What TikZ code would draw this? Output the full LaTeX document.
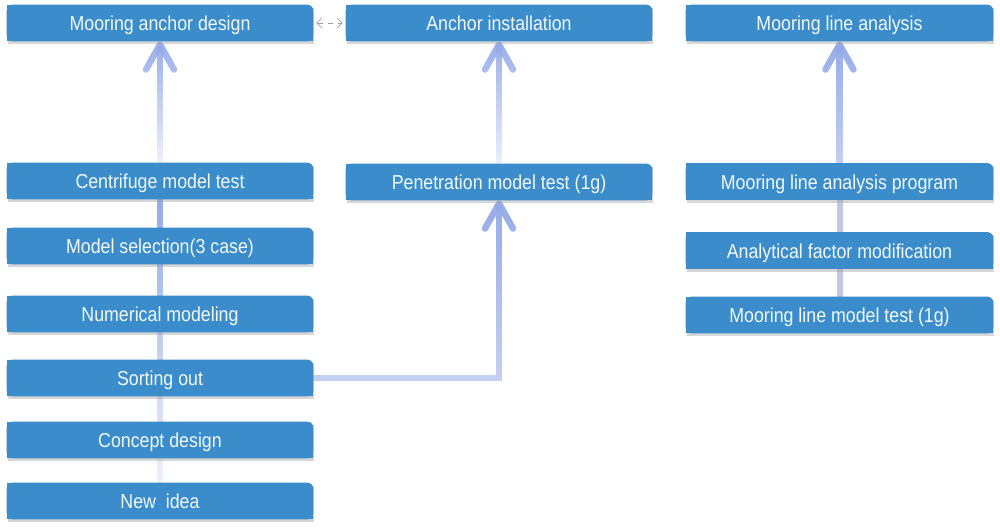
\documentclass[tikz,border=0pt]{standalone}
\usepackage{fontspec}
\setmainfont{Liberation Sans}[FakeStretch=0.88]
\usetikzlibrary{arrows.meta,fadings}
\definecolor{boxblue}{RGB}{58,140,202}
\definecolor{arrowblue}{RGB}{148,170,232}
\definecolor{linkblue}{RGB}{196,200,232}
\definecolor{boxtext}{RGB}{242,248,252}
\tikzfading[name=fadeup, top color=transparent!0, bottom color=transparent!85]
\tikzfading[name=fadeupsoft, top color=transparent!0, bottom color=transparent!45]
\pgfdeclarelayer{layzero}
\pgfdeclarelayer{layone}
\pgfsetlayers{layzero,layone,main}
\begin{document}
\begin{tikzpicture}[x=0.02cm,y=-0.02cm,
  box/.style={minimum width=6.12cm, minimum height=0.72cm, inner sep=0pt,
    text height=9pt, text depth=0pt,
    text=boxtext, font=\fontsize{11.5}{13}\selectfont},
  wbox/.style={box, minimum width=6.14cm},
  bigarrow/.style={draw=arrowblue, line width=0.13cm, line cap=round,
    -{Straight Barb[length=0.5cm,width=0.56cm,round]}},
  linkline/.style={draw=linkblue, line width=0.12cm},
  dasharrow/.style={draw=gray!75, dashed, line width=0.45pt,
    {Straight Barb[length=3pt,width=6pt]}-{Straight Barb[length=3pt,width=6pt]}}
]
\useasboundingbox (0,0) rectangle (1000,531);

% left column
\node[box] (mad) at (160,23)  {Mooring anchor design};
\node[box] (cf)  at (160,181) {Centrifuge model test};
\node[box] (ms)  at (160,246) {Model selection(3 case)};
\node[box] (nm)  at (160,314) {Numerical modeling};
\node[box] (so)  at (160,378) {Sorting out};
\node[box] (cd)  at (160,440) {Concept design};
\node[box] (ni)  at (160,501) {New\ \ idea};
% middle column
\node[box] (ai)  at (499,23)  {Anchor installation};
\node[box] (pen) at (499,182) {Penetration model test (1g)};
% right column
\node[wbox] (mla)  at (839.5,23)    {Mooring line analysis};
\node[wbox] (prog) at (839.5,181.5) {Mooring line analysis program};
\node[wbox] (af)   at (839.5,250.5) {Analytical factor modification};
\node[wbox] (mlt)  at (839.5,315)   {Mooring line model test (1g)};

\begin{pgfonlayer}{layone}
\foreach \n in {mad,cf,ms,nm,so,cd,ni,ai,pen,mla,prog,af,mlt}{
  \fill[black!40, opacity=0.4] ([shift={(1,3)}]\n.south west) rectangle ([shift={(1,3)}]\n.north east);
  \fill[boxblue, rounded corners=0.12cm] (\n.south west) rectangle (\n.north east);
  \fill[boxblue] (\n.south west) rectangle ([shift={(-8,0)}]\n.north east);
  \fill[boxblue] (\n.south west) rectangle ([shift={(0,8)}]\n.north east);
}
\end{pgfonlayer}

\begin{pgfonlayer}{layzero}
\draw[linkline, draw=arrowblue, path fading=fadeup] (ni.north) -- (cf.south);
\draw[bigarrow, path fading=fadeup] ([shift={(-20,-4)}]mad.south) ([shift={(20,0)}]cf.north) (cf.north) -- (mad.south);
\draw[bigarrow, path fading=fadeup] ([shift={(-20,-4)}]ai.south) ([shift={(20,0)}]pen.north) (pen.north) -- (ai.south);
\draw[bigarrow, path fading=fadeupsoft] ([shift={(20,-4)}]pen.south) (so.east) -| (pen.south);
\draw[bigarrow, path fading=fadeupsoft] ([shift={(-20,-4)}]mla.south) ([shift={(20,0)}]prog.north) (prog.north) -- (mla.south);
\draw[linkline] (mlt.north) -- (af.south);
\draw[linkline] (af.north) -- (prog.south);
\end{pgfonlayer}

\draw[dasharrow] ([shift={(3,0)}]mad.east) -- ([shift={(-3,0)}]ai.west);
\end{tikzpicture}
\end{document}
